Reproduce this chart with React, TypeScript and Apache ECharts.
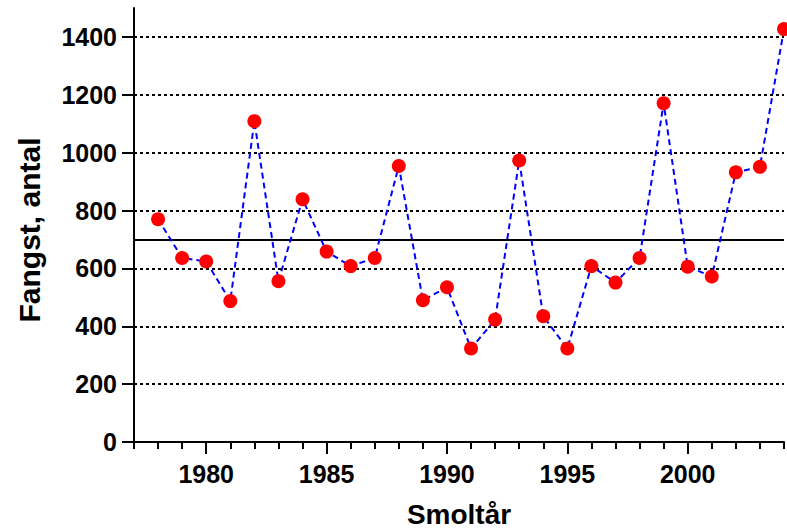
import React, { useEffect, useRef } from "react";
import * as echarts from "echarts";

const years = [
  1978, 1979, 1980, 1981, 1982, 1983, 1984, 1985, 1986, 1987, 1988, 1989, 1990,
  1991, 1992, 1993, 1994, 1995, 1996, 1997, 1998, 1999, 2000, 2001, 2002, 2003, 2004,
];
const catches = [
  770, 636, 624, 487, 1109, 556, 839, 658, 608, 636, 954, 490, 535,
  323, 423, 973, 435, 323, 608, 551, 636, 1171, 606, 572, 932, 951, 1427,
];
const meanCatch = 698;
const yTickValues = [0, 200, 400, 600, 800, 1000, 1200, 1400];
const gridLineValues = [200, 400, 600, 800, 1000, 1200, 1400];
const xLabelYears = [1980, 1985, 1990, 1995, 2000];
const xMinorYears = [
  1977, 1978, 1979, 1980, 1981, 1982, 1983, 1984, 1985, 1986, 1987, 1988, 1989, 1990,
  1991, 1992, 1993, 1994, 1995, 1996, 1997, 1998, 1999, 2000, 2001, 2002, 2003, 2004,
];
const xMin = 1977;
const xMax = 2004;
const yMin = 0;
const yMax = 1500;
const xTitle = "Smoltår";
const yTitle = "Fangst, antal";

const FONT = "Liberation Sans, Arial, sans-serif";

export default function App() {
  const ref = useRef<HTMLDivElement>(null);
  useEffect(() => {
    if (!ref.current) return;
    const chart = echarts.init(ref.current, undefined, { renderer: "svg" });
    const axisLineStyle = { color: "#000", width: 2 };
    chart.setOption({
      animation: false,
      backgroundColor: "#fff",
      grid: { left: 134, right: 3, top: 8, bottom: 87, containLabel: false, outerBoundsMode: "none" },
      graphic: [
        {
          type: "text",
          x: 29,
          y: 230,
          rotation: Math.PI / 2,
          silent: true,
          style: {
            text: yTitle,
            fontFamily: FONT,
            fontWeight: "bold",
            fontSize: 30,
            fill: "#000",
            align: "center",
            verticalAlign: "middle",
          },
        },
      ],
      xAxis: [
        {
          type: "value",
          min: xMin,
          max: xMax,
          position: "bottom",
          name: xTitle,
          nameLocation: "middle",
          nameGap: 58,
          nameTextStyle: { fontFamily: FONT, fontWeight: "bold", fontSize: 28, lineHeight: 28, color: "#000" },
          axisLine: { show: true, onZero: false, lineStyle: axisLineStyle },
          axisTick: { show: true, inside: false, length: 7, lineStyle: axisLineStyle, customValues: xMinorYears },
          axisLabel: {
            show: true,
            margin: 19,
            customValues: xLabelYears,
            fontFamily: FONT,
            fontWeight: "bold",
            fontSize: 25,
            color: "#000",
            formatter: (v: number) => String(v),
          },
          splitLine: { show: false },
        },
        {
          type: "value",
          min: xMin,
          max: xMax,
          position: "bottom",
          axisLine: { show: false },
          axisTick: { show: true, inside: false, length: 12, lineStyle: axisLineStyle, customValues: xLabelYears },
          axisLabel: { show: false },
          splitLine: { show: false },
        },
      ],
      yAxis: {
        type: "value",
        min: yMin,
        max: yMax,
        axisLine: { show: true, onZero: false, lineStyle: axisLineStyle },
        axisTick: { show: true, inside: false, length: 12, lineStyle: axisLineStyle, customValues: yTickValues },
        axisLabel: {
          show: true,
          margin: 17,
          customValues: yTickValues,
          fontFamily: FONT,
          fontWeight: "bold",
          fontSize: 25,
          color: "#000",
          formatter: (v: number) => String(v),
        },
        splitLine: { show: false },
      },
      series: [
        {
          type: "line",
          xAxisIndex: 0,
          data: years.map((y, i) => [y, catches[i]]),
          symbol: "circle",
          symbolSize: 14,
          clip: false,
          itemStyle: { color: "#ff0000" },
          lineStyle: { color: "#0000ff", width: 2, type: [6, 4] },
          z: 5,
          markLine: {
            silent: true,
            symbol: "none",
            label: { show: false },
            z: 2,
            data: [
              ...gridLineValues.map((v) => ({
                yAxis: v,
                lineStyle: { color: "#000", width: 2, type: [3, 3] },
              })),
              { yAxis: meanCatch, lineStyle: { color: "#000", width: 2, type: "solid" } },
            ],
          },
        },
      ],
    });
    return () => chart.dispose();
  }, []);
  return (
    <div
      ref={ref}
      style={{ position: "fixed", left: 0, top: 0, width: 787, height: 529, background: "#fff" }}
    />
  );
}
